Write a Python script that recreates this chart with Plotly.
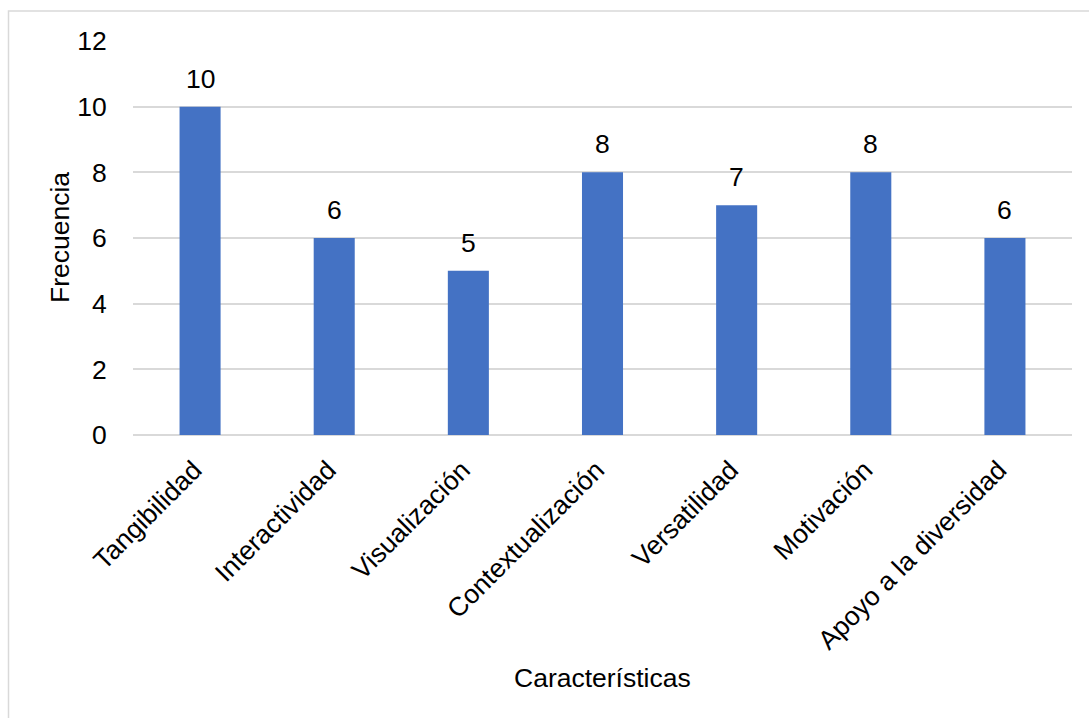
import plotly.graph_objects as go

# Frequency of each characteristic
categorias = ["Tangibilidad", "Interactividad", "Visualización", "Contextualización",
              "Versatilidad", "Motivación", "Apoyo a la diversidad"]
frecuencias = [10, 6, 5, 8, 7, 8, 6]
y_ticks = [0, 2, 4, 6, 8, 10, 12]

FONT = "Liberation Sans, Arial, sans-serif"
FS = 26.5
W, H = 1089, 718
ML, MR, MT, MB = 133, 17, 41, 283

pw = W - ML - MR
ph = H - MT - MB


def px_x(p):
    return (p - ML) / pw


def px_y(p):
    return (H - MB - p) / ph


fig = go.Figure()
fig.add_trace(go.Bar(
    x=categorias,
    y=frecuencias,
    marker=dict(color="#4472C4", line=dict(width=0)),
    hoverinfo="x+y",
))

# Value labels above each bar
for c, v in zip(categorias, frecuencias):
    fig.add_annotation(x=c, y=v, text=str(v), showarrow=False,
                       yanchor="bottom", yshift=11,
                       font=dict(family=FONT, size=FS, color="#000000"))

# Axis titles
fig.add_annotation(xref="paper", yref="paper", x=px_x(60), y=0.5,
                   text="Frecuencia", textangle=-90, showarrow=False,
                   xanchor="center", yanchor="middle",
                   font=dict(family=FONT, size=FS, color="#000000"))
fig.add_annotation(xref="paper", yref="paper", x=0.5, y=px_y(678),
                   text="Características", showarrow=False,
                   xanchor="center", yanchor="middle",
                   font=dict(family=FONT, size=FS, color="#000000"))

# Light chart-area border (runs past the right and bottom edges)
fig.add_shape(type="rect", xref="paper", yref="paper",
              x0=px_x(8.5), x1=px_x(1100), y0=px_y(730), y1=px_y(11),
              line=dict(color="#D9D9D9", width=1.5), fillcolor="rgba(0,0,0,0)",
              layer="below")

fig.update_layout(
    width=W, height=H,
    margin=dict(l=ML, r=MR, t=MT, b=MB, pad=0),
    paper_bgcolor="white",
    plot_bgcolor="white",
    bargap=0.694,
    showlegend=False,
    font=dict(family=FONT, size=FS, color="#000000"),
    xaxis=dict(
        tickangle=-45,
        tickfont=dict(family=FONT, size=FS, color="#000000"),
        showgrid=False,
        showline=False,
        ticks="outside",
        ticklen=8,
        tickcolor="rgba(0,0,0,0)",
        ticklabelshift=-6,
    ),
    yaxis=dict(
        range=[0, 12],
        tickvals=y_ticks,
        ticktext=[str(t) for t in y_ticks],
        tickfont=dict(family=FONT, size=FS, color="#000000"),
        showgrid=True,
        gridcolor="#D9D9D9",
        gridwidth=1.5,
        zeroline=True,
        zerolinecolor="#D9D9D9",
        zerolinewidth=1.5,
        ticks="outside",
        ticklen=20,
        tickcolor="rgba(0,0,0,0)",
        showline=False,
    ),
)

fig.write_html("out.html")
